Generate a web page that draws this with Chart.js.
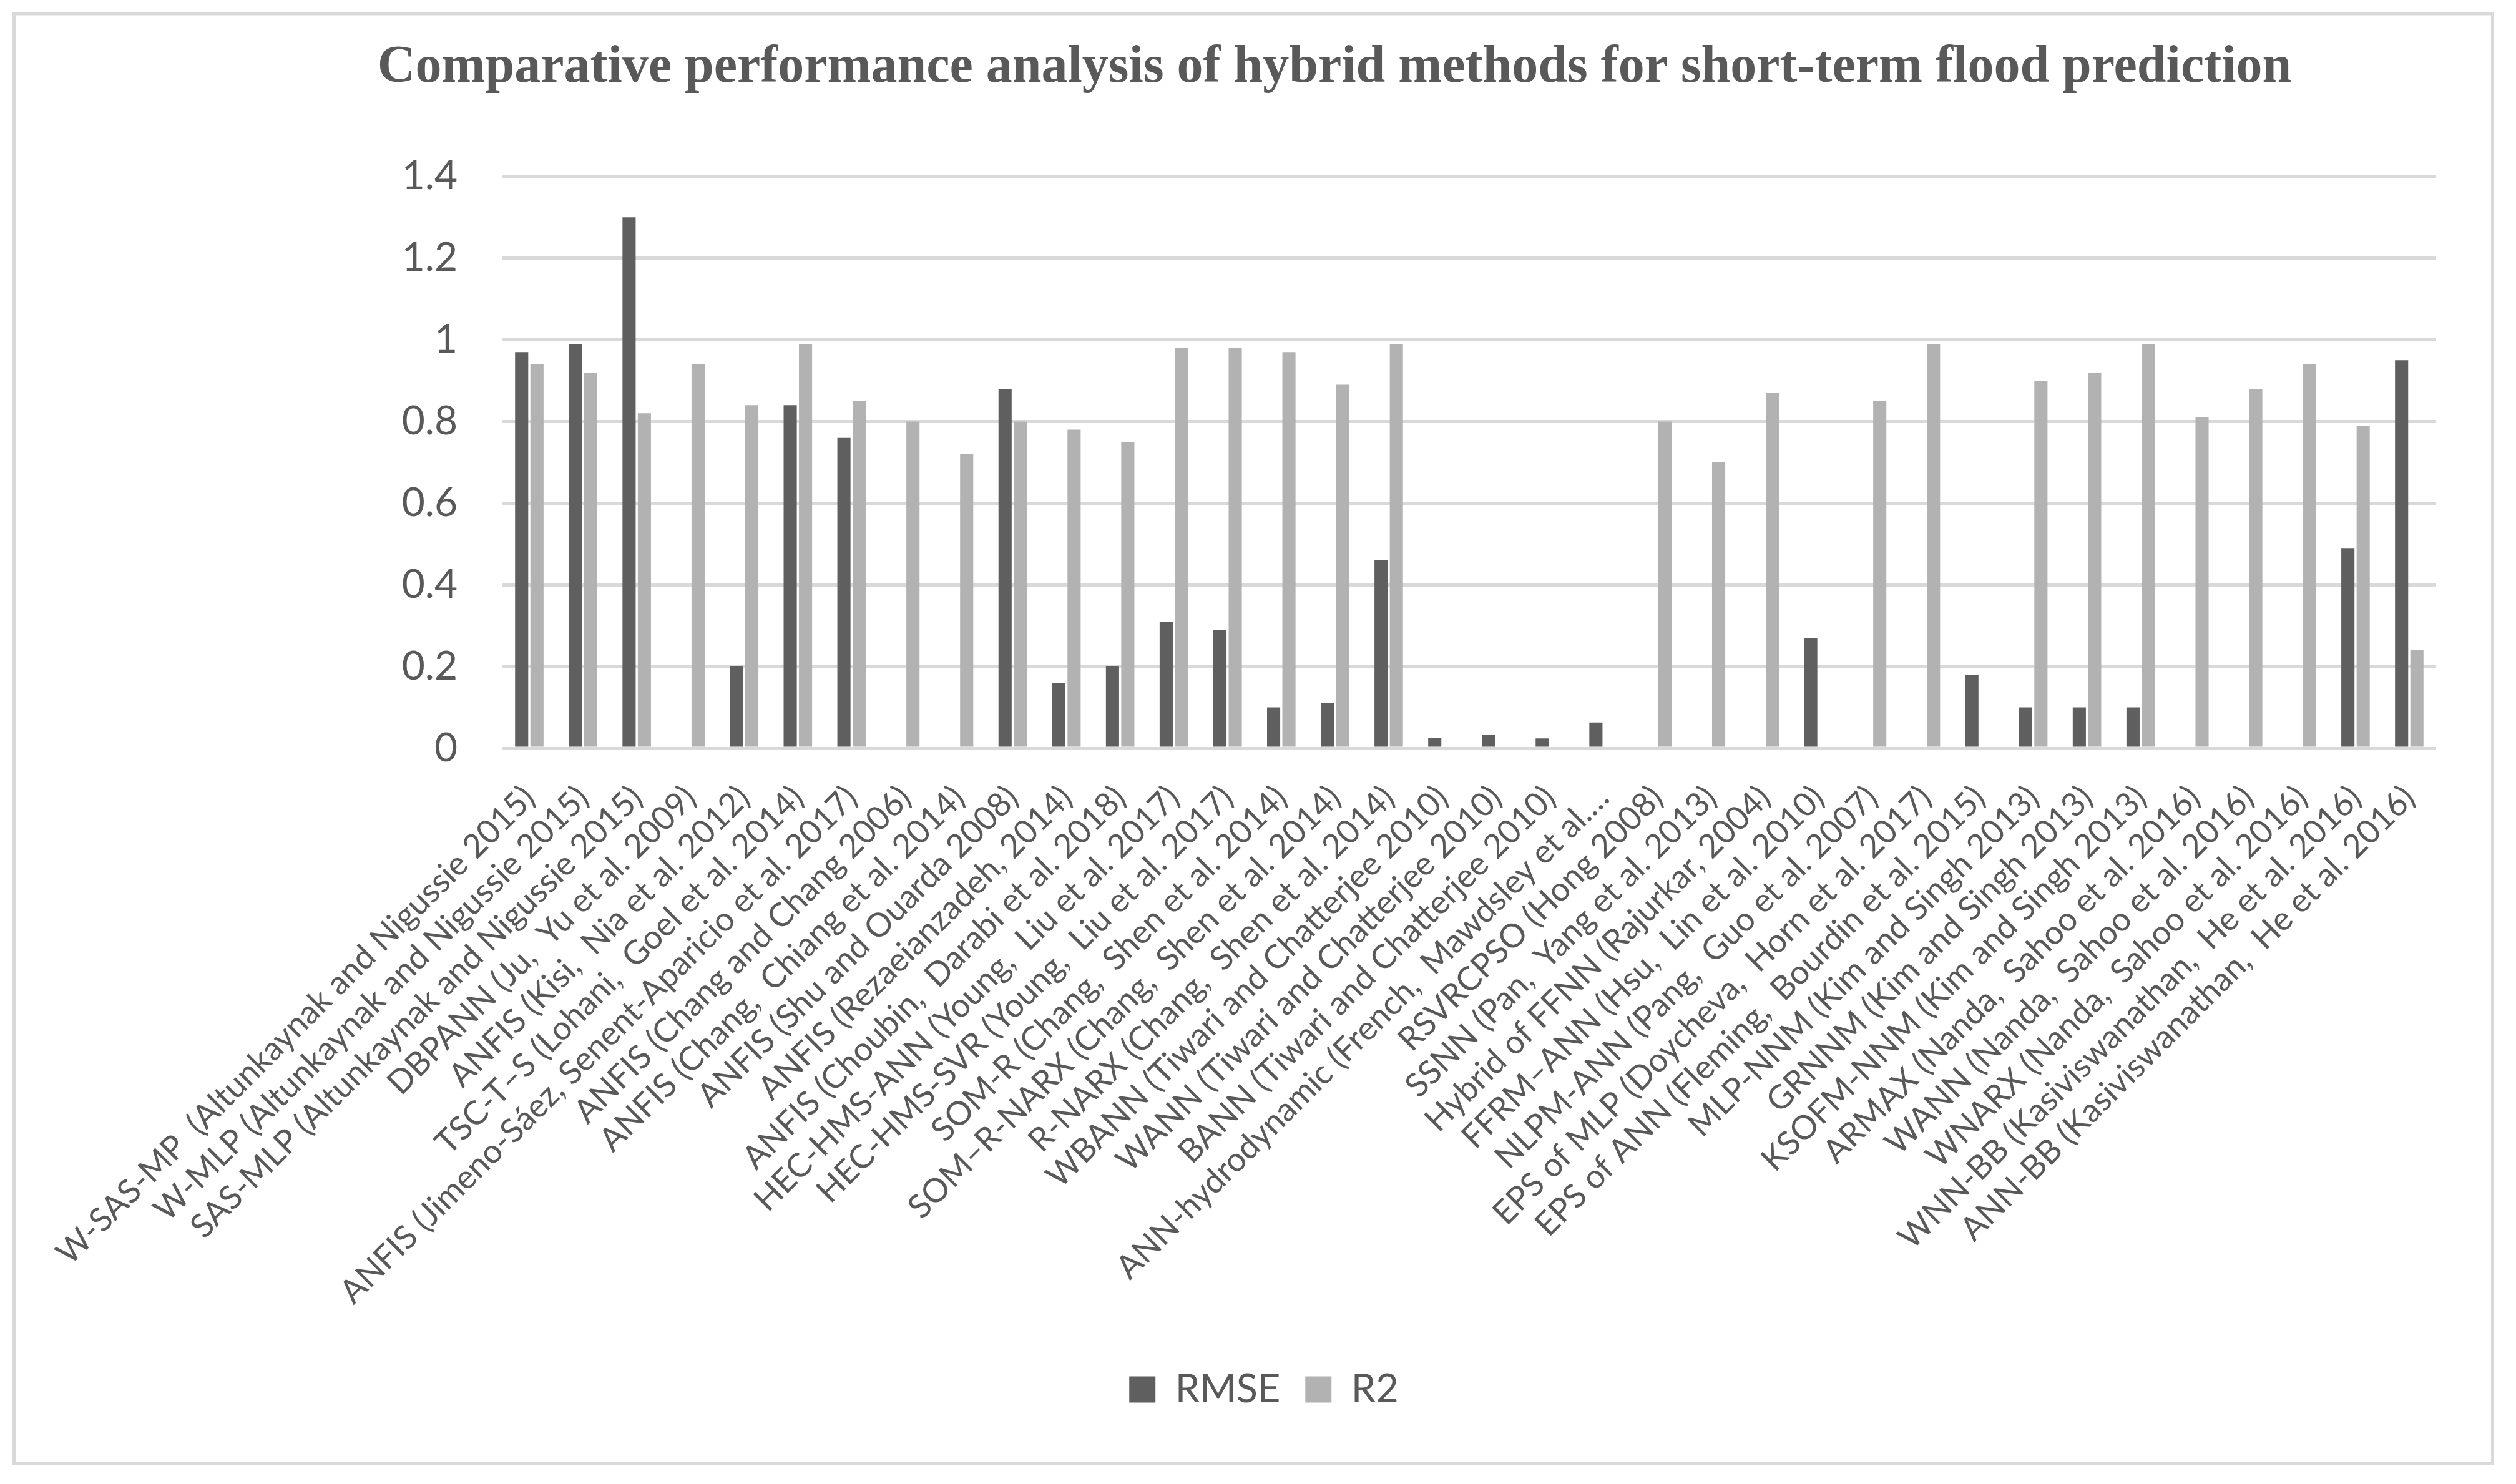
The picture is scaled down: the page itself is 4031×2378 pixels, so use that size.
<!DOCTYPE html>
<html>
<head>
<meta charset="utf-8">
<script src="https://cdn.jsdelivr.net/npm/chart.js@4/dist/chart.umd.min.js"></script>
<style>
  html, body { margin: 0; padding: 0; background: #ffffff; }
  #wrap { width: 4031px; height: 2378px; }
</style>
</head>
<body>
<div id="wrap"><canvas id="floodChart" width="4031" height="2378"></canvas></div>
<script>
const categories = [
  "W-SAS-MP  (Altunkaynak and Nigussie 2015)",
  "W-MLP (Altunkaynak and Nigussie 2015)",
  "SAS-MLP (Altunkaynak and Nigussie 2015)",
  "DBPANN (Ju,  Yu et al. 2009)",
  "ANFIS (Kisi,  Nia et al. 2012)",
  "TSC-T–S (Lohani,  Goel et al. 2014)",
  "ANFIS (Jimeno-Sáez, Senent-Aparicio et al. 2017)",
  "ANFIS (Chang and Chang 2006)",
  "ANFIS (Chang,  Chiang et al. 2014)",
  "ANFIS (Shu and Ouarda 2008)",
  "ANFIS (Rezaeianzadeh, 2014)",
  "ANFIS (Choubin,  Darabi et al. 2018)",
  "HEC-HMS-ANN (Young,  Liu et al. 2017)",
  "HEC-HMS-SVR (Young,  Liu et al. 2017)",
  "SOM-R (Chang,  Shen et al. 2014)",
  "SOM–R-NARX (Chang,  Shen et al. 2014)",
  "R-NARX (Chang,  Shen et al. 2014)",
  "WBANN (Tiwari and Chatterjee 2010)",
  "WANN (Tiwari and Chatterjee 2010)",
  "BANN (Tiwari and Chatterjee 2010)",
  "ANN-hydrodynamic (French,  Mawdsley et al.…",
  "RSVRCPSO (Hong 2008)",
  "SSNN (Pan,  Yang et al. 2013)",
  "Hybrid of FFNN (Rajurkar, 2004)",
  "FFRM–ANN (Hsu,  Lin et al. 2010)",
  "NLPM-ANN (Pang,  Guo et al. 2007)",
  "EPS of MLP (Doycheva,  Horn et al. 2017)",
  "EPS of ANN (Fleming,  Bourdin et al. 2015)",
  "MLP-NNM (Kim and Singh 2013)",
  "GRNNM (Kim and Singh 2013)",
  "KSOFM-NNM (Kim and Singh 2013)",
  "ARMAX (Nanda,  Sahoo et al. 2016)",
  "WANN (Nanda,  Sahoo et al. 2016)",
  "WNARX (Nanda,  Sahoo et al. 2016)",
  "WNN-BB (Kasiviswanathan,  He et al. 2016)",
  "ANN-BB (Kasiviswanathan,  He et al. 2016)"
];

const rmseValues = [
  0.97, 0.99, 1.30, null, 0.20, 0.84, 0.76, null, null, 0.88,
  0.16, 0.20, 0.31, 0.29, 0.10, 0.11, 0.46, 0.025, 0.033, 0.024,
  0.063, null, null, null, 0.27, null, null, 0.18, 0.10, 0.10,
  0.10, null, null, null, 0.49, 0.95
];

const r2Values = [
  0.94, 0.92, 0.82, 0.94, 0.84, 0.99, 0.85, 0.80, 0.72, 0.80,
  0.78, 0.75, 0.98, 0.98, 0.97, 0.89, 0.99, null, null, null,
  null, 0.80, 0.70, 0.87, null, 0.85, 0.99, null, 0.90, 0.92,
  0.99, 0.81, 0.88, 0.94, 0.79, 0.24
];

const yTickValues = [0, 0.2, 0.4, 0.6, 0.8, 1, 1.2, 1.4];
const yTickLabels = ["0", "0.2", "0.4", "0.6", "0.8", "1", "1.2", "1.4"];

const textColor = "#595959";
const gridColor = "#d9d9d9";

// white background and the light frame round the whole chart
const frame = {
  id: "frame",
  beforeDraw(chart) {
    const ctx = chart.ctx;
    ctx.save();
    ctx.fillStyle = "#ffffff";
    ctx.fillRect(0, 0, chart.width, chart.height);
    ctx.strokeStyle = gridColor;
    ctx.lineWidth = 5;
    ctx.strokeRect(22.5, 22, chart.width - 60, chart.height - 55);
    ctx.restore();
  }
};

// the legend sits under the middle of the frame, not of the plot
const legendShift = {
  id: "legendShift",
  afterLayout(chart) {
    chart.legend.left -= 113;
    chart.legend.right -= 113;
  }
};

new Chart(document.getElementById("floodChart"), {
  type: "bar",
  data: {
    labels: categories,
    datasets: [
      {
        label: "RMSE",
        data: rmseValues,
        backgroundColor: "#5f5f5f",
        barPercentage: 0.86,
        categoryPercentage: 0.57
      },
      {
        label: "R2",
        data: r2Values,
        backgroundColor: "#b2b2b2",
        barPercentage: 0.86,
        categoryPercentage: 0.57
      }
    ]
  },
  options: {
    responsive: false,
    animation: false,
    devicePixelRatio: 1,
    layout: {
      padding: { top: 20, left: 373, right: 128, bottom: 110 }
    },
    plugins: {
      title: {
        display: true,
        text: "Comparative performance analysis of hybrid methods for short-term flood prediction",
        color: textColor,
        font: { family: "'Liberation Serif', 'Times New Roman', serif", size: 84, weight: "bold" },
        padding: { top: 39, bottom: 123 }
      },
      legend: {
        position: "bottom",
        labels: {
          color: textColor,
          boxWidth: 42,
          boxHeight: 42,
          padding: 40,
          font: { family: "Lato", size: 63 }
        }
      },
      tooltip: { enabled: false }
    },
    scales: {
      x: {
        grid: { display: false },
        border: { display: false },
        ticks: {
          color: textColor,
          autoSkip: false,
          maxRotation: 45,
          minRotation: 45,
          padding: 40,
          font: { family: "Lato", size: 53 }
        },
        afterFit(scale) {
          scale.height = 956;
        }
      },
      y: {
        min: 0,
        max: 1.4,
        border: { display: false },
        grid: { color: gridColor, lineWidth: 5, drawTicks: false },
        ticks: {
          color: textColor,
          padding: 72,
          font: { family: "Lato", size: 64 },
          callback: (value, index) => yTickLabels[index]
        },
        afterBuildTicks(scale) {
          scale.ticks = yTickValues.map(v => ({ value: v }));
        },
        afterFit(scale) {
          scale.width = 432;
        }
      }
    }
  },
  plugins: [frame, legendShift]
});
</script>
</body>
</html>
